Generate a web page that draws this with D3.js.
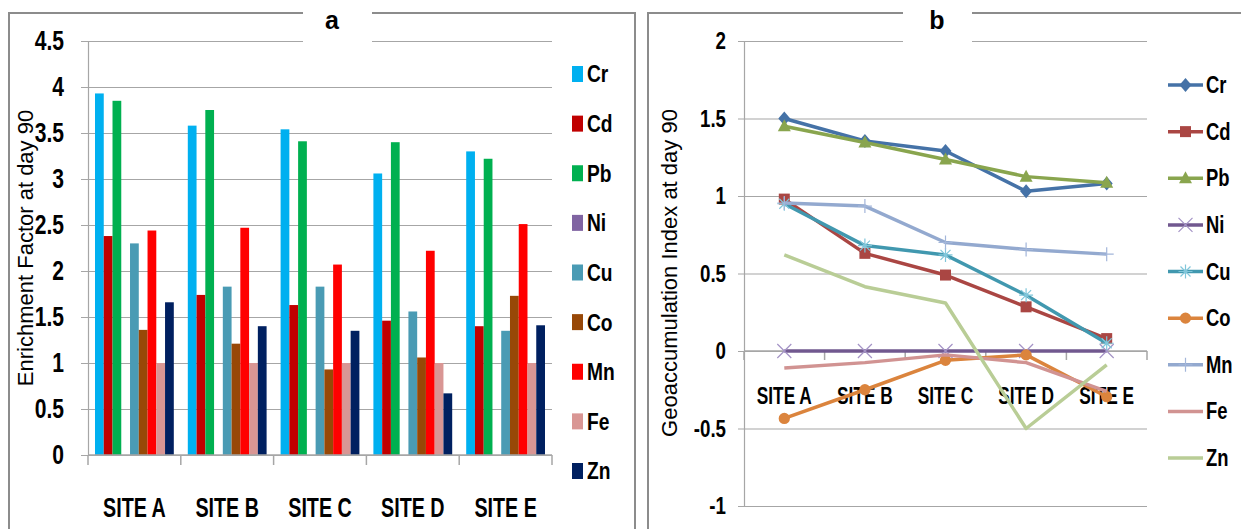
<!DOCTYPE html>
<html>
<head>
<meta charset="utf-8">
<script src="https://cdn.jsdelivr.net/npm/d3@7"></script>
<style>
  body { margin: 0; background: #fff; }
  text { font-family: "Liberation Sans", Arial, sans-serif; font-weight: bold; fill: #000; }
</style>
</head>
<body>
<svg id="chart" width="1241" height="529"></svg>
<script>
const sites = ['SITE A', 'SITE B', 'SITE C', 'SITE D', 'SITE E'];
const metals = ['Cr', 'Cd', 'Pb', 'Ni', 'Cu', 'Co', 'Mn', 'Fe', 'Zn'];

// panel a: enrichment factor at day 90, per metal, by site
const efCr = [3.93, 3.58, 3.54, 3.06, 3.30];
const efCd = [2.38, 1.74, 1.63, 1.46, 1.40];
const efPb = [3.85, 3.75, 3.41, 3.40, 3.22];
const efNi = [0, 0, 0, 0, 0];
const efCu = [2.30, 1.83, 1.83, 1.56, 1.35];
const efCo = [1.36, 1.21, 0.93, 1.06, 1.73];
const efMn = [2.44, 2.47, 2.07, 2.22, 2.51];
const efFe = [1.00, 1.00, 1.00, 1.00, 1.00];
const efZn = [1.66, 1.40, 1.35, 0.67, 1.41];

// panel b: geoaccumulation index at day 90
const igCr = [1.50, 1.355, 1.29, 1.03, 1.08];
const igCd = [0.98, 0.63, 0.49, 0.285, 0.08];
const igPb = [1.45, 1.345, 1.235, 1.125, 1.085];
const igNi = [0, 0, 0, 0, 0];
const igCu = [0.95, 0.68, 0.62, 0.36, 0.05];
const igCo = [-0.435, -0.25, -0.06, -0.025, -0.295];
const igMn = [0.955, 0.935, 0.70, 0.655, 0.625];
const igFe = [-0.11, -0.075, -0.025, -0.075, -0.26];
const igZn = [0.62, 0.415, 0.31, -0.50, -0.09];

const ticksA = [0, 0.5, 1, 1.5, 2, 2.5, 3, 3.5, 4, 4.5];
const ticksB = [-1, -0.5, 0, 0.5, 1, 1.5, 2];

const efData = [efCr, efCd, efPb, efNi, efCu, efCo, efMn, efFe, efZn];
const igData = [igCr, igCd, igPb, igNi, igCu, igCo, igMn, igFe, igZn];

const barColors = ['#00B0F0', '#C00000', '#00B050', '#8064A2', '#4A9BB4', '#984807', '#FF0000', '#D99694', '#002060'];
const lineColors = ['#4572A7', '#AA4643', '#89A54E', '#71588F', '#4198AF', '#DB843D', '#93A9CF', '#D19392', '#B9CD96'];
const markerKinds = ['diamond', 'square', 'triangle', 'x', 'asterisk', 'circle', 'plus', null, null];
const markerColors = ['#4572A7', '#AA4643', '#89A54E', '#A493C6', '#80C6DA', '#DB843D', '#A3B6DA', null, null];

const svg = d3.select('#chart');
const gridColor = '#A6A6A6';
const borderColor = '#8C8C8C';

// squeeze text horizontally (the original uses a narrow font)
function condense(sel, k) {
    sel.each(function () {
        const len = this.getComputedTextLength();
        d3.select(this).attr('textLength', len * k).attr('lengthAdjust', 'spacingAndGlyphs');
    });
}

// marker path by kind
function markerPath(kind) {
    switch (kind) {
        case 'diamond': return 'M0,-7L6,0L0,7L-6,0Z';
        case 'square': return 'M-5.5,-5.5H5.5V5.5H-5.5Z';
        case 'triangle': return 'M0,-7L6.5,5L-6.5,5Z';
        case 'circle': return d3.symbol(d3.symbolCircle, 100)();
        case 'x': return 'M-7,-7L7,7M-7,7L7,-7';
        case 'asterisk': return 'M-7,0H7M0,-7V7M-5,-5L5,5M-5,5L5,-5';
        case 'plus': return 'M-7,0H7M0,-7V7';
    }
    return '';
}
function isStroked(kind) { return kind === 'x' || kind === 'asterisk' || kind === 'plus'; }

// ---------------- panel a ----------------
svg.append('rect').attr('x', 9).attr('y', 13).attr('width', 626).attr('height', 540)
    .attr('fill', '#fff').attr('stroke', borderColor).attr('stroke-width', 2);

const xA = d3.scaleBand().domain(sites).range([88, 552]);
const xA1 = d3.scaleBand().domain(metals).range([7, xA.bandwidth() - 7]);
const yA = d3.scaleLinear().domain([0, 4.5]).range([455, 41]);

// gridlines
svg.append('g')
    .attr('transform', 'translate(552,0)')
    .call(d3.axisLeft(yA).tickValues(ticksA).tickSize(552 - 81).tickFormat(''))
    .call(g => g.select('.domain').remove())
    .call(g => g.selectAll('line').attr('stroke', gridColor).attr('stroke-width', 1.2));

// bars
const groups = svg.append('g').selectAll('g')
    .data(sites)
    .enter()
    .append('g')
    .attr('transform', d => 'translate(' + xA(d) + ',0)');

groups.selectAll('rect')
    .data((d, i) => metals.map((m, j) => ({ metal: m, value: efData[j][i], color: barColors[j] })))
    .enter()
    .append('rect')
    .attr('x', d => xA1(d.metal))
    .attr('y', d => yA(d.value))
    .attr('width', xA1.bandwidth())
    .attr('height', d => yA(0) - yA(d.value))
    .attr('fill', d => d.color);

// y axis
svg.append('g')
    .attr('transform', 'translate(88,0)')
    .call(d3.axisLeft(yA).tickValues(ticksA).tickSize(0).tickPadding(24).tickFormat(d => String(d)))
    .call(g => g.select('.domain').attr('stroke', gridColor).attr('stroke-width', 1.2))
    .call(g => g.selectAll('text').style('font-size', '27px').call(condense, 0.78));

// x axis
svg.append('line').attr('x1', 88).attr('x2', 552).attr('y1', yA(0)).attr('y2', yA(0))
    .attr('stroke', gridColor).attr('stroke-width', 1.5);
svg.append('g').selectAll('line')
    .data(sites.map(s => xA(s)).concat([xA.range()[1]]))
    .enter()
    .append('line')
    .attr('x1', d => d).attr('x2', d => d)
    .attr('y1', yA(0)).attr('y2', yA(0) + 10)
    .attr('stroke', gridColor).attr('stroke-width', 1.5);
svg.append('g')
    .attr('transform', 'translate(0,' + yA(0) + ')')
    .call(d3.axisBottom(xA).tickSize(0).tickPadding(43))
    .call(g => g.select('.domain').remove())
    .call(g => g.selectAll('text').style('font-size', '27px').call(condense, 0.73));

svg.append('text')
    .attr('transform', 'translate(33,248) rotate(-90)')
    .style('text-anchor', 'middle')
    .style('font-size', '22px')
    .style('font-weight', 'normal')
    .text('Enrichment Factor at day 90');

// legend a
const legA = d3.scalePoint().domain(metals).range([74, 471]);
const legendA = svg.append('g').selectAll('g')
    .data(metals)
    .enter()
    .append('g')
    .attr('transform', d => 'translate(572,' + legA(d) + ')');
legendA.append('rect').attr('x', 0).attr('y', -8).attr('width', 11).attr('height', 16)
    .attr('fill', (d, i) => barColors[i]);
legendA.append('text').attr('x', 15).attr('dy', '0.35em').style('font-size', '24px').text(d => d)
    .call(condense, 0.8);

// title a
svg.append('rect').attr('x', 303).attr('y', 0).attr('width', 69).attr('height', 46).attr('fill', '#fff');
svg.append('text').attr('x', 332).attr('y', 29).style('text-anchor', 'middle')
    .style('font-size', '25px').text('a');

// ---------------- panel b ----------------
svg.append('rect').attr('x', 648).attr('y', 13).attr('width', 620).attr('height', 540)
    .attr('fill', '#fff').attr('stroke', borderColor).attr('stroke-width', 2);

const xB = d3.scaleBand().domain(sites).range([744, 1147]);
const yB = d3.scaleLinear().domain([-1, 2]).range([506, 41]);

svg.append('g')
    .attr('transform', 'translate(1147,0)')
    .call(d3.axisLeft(yB).tickValues(ticksB).tickSize(1147 - 738).tickFormat(''))
    .call(g => g.select('.domain').remove())
    .call(g => g.selectAll('line').attr('stroke', gridColor).attr('stroke-width', 1.2));

svg.append('g')
    .attr('transform', 'translate(744,0)')
    .call(d3.axisLeft(yB).tickValues(ticksB).tickSize(0).tickPadding(18).tickFormat(d => String(d)))
    .call(g => g.select('.domain').attr('stroke', gridColor).attr('stroke-width', 1.2))
    .call(g => g.selectAll('text').style('font-size', '24px').call(condense, 0.78));

// x axis at zero
svg.append('line').attr('x1', 744).attr('x2', 1147).attr('y1', yB(0)).attr('y2', yB(0))
    .attr('stroke', gridColor).attr('stroke-width', 1.5);
svg.append('g').selectAll('line')
    .data(sites.map(s => xB(s)).concat([xB.range()[1]]))
    .enter()
    .append('line')
    .attr('x1', d => d).attr('x2', d => d)
    .attr('y1', yB(0)).attr('y2', yB(0) + 9)
    .attr('stroke', gridColor).attr('stroke-width', 1.5);
svg.append('g')
    .attr('transform', 'translate(0,' + yB(0) + ')')
    .call(d3.axisBottom(xB).tickSize(0).tickPadding(36))
    .call(g => g.select('.domain').remove())
    .call(g => g.selectAll('text').style('font-size', '24px').call(condense, 0.72));

svg.append('text')
    .attr('transform', 'translate(677,273) rotate(-90)')
    .style('text-anchor', 'middle')
    .style('font-size', '22px')
    .style('font-weight', 'normal')
    .text('Geoaccumulation Index at day 90');

// lines
const cx = s => xB(s) + xB.bandwidth() / 2;
const line = d3.line().x((d, i) => cx(sites[i])).y(d => yB(d));

const series = svg.append('g').selectAll('g')
    .data(igData)
    .enter()
    .append('g');

series.append('path')
    .attr('d', d => line(d))
    .attr('fill', 'none')
    .attr('stroke', (d, i) => lineColors[i])
    .attr('stroke-width', 3.5)
    .attr('stroke-linejoin', 'round');

series.each(function (vals, j) {
    const kind = markerKinds[j];
    if (!kind) return;
    d3.select(this).selectAll('path.mk')
        .data(vals)
        .enter()
        .append('path')
        .attr('class', 'mk')
        .attr('transform', (d, i) => 'translate(' + cx(sites[i]) + ',' + yB(d) + ')')
        .attr('d', markerPath(kind))
        .attr('fill', isStroked(kind) ? 'none' : markerColors[j])
        .attr('stroke', markerColors[j])
        .attr('stroke-width', isStroked(kind) ? 1.2 : 0);
});

// legend b
const legB = d3.scalePoint().domain(metals).range([85, 458]);
const legendB = svg.append('g').selectAll('g')
    .data(metals)
    .enter()
    .append('g')
    .attr('transform', d => 'translate(1168,' + legB(d) + ')');
legendB.append('line').attr('x1', 0).attr('x2', 35).attr('y1', 0).attr('y2', 0)
    .attr('stroke', (d, i) => lineColors[i]).attr('stroke-width', 3.5);
legendB.append('path')
    .attr('transform', 'translate(17.5,0)')
    .attr('d', (d, i) => markerPath(markerKinds[i]))
    .attr('fill', (d, i) => isStroked(markerKinds[i]) ? 'none' : markerColors[i])
    .attr('stroke', (d, i) => markerColors[i] || 'none')
    .attr('stroke-width', (d, i) => isStroked(markerKinds[i]) ? 1.2 : 0);
legendB.append('text').attr('x', 38).attr('dy', '0.35em').style('font-size', '23px').text(d => d)
    .call(condense, 0.8);

// title b
svg.append('rect').attr('x', 903).attr('y', 0).attr('width', 69).attr('height', 46).attr('fill', '#fff');
svg.append('text').attr('x', 937).attr('y', 29).style('text-anchor', 'middle')
    .style('font-size', '25px').text('b');
</script>
</body>
</html>
